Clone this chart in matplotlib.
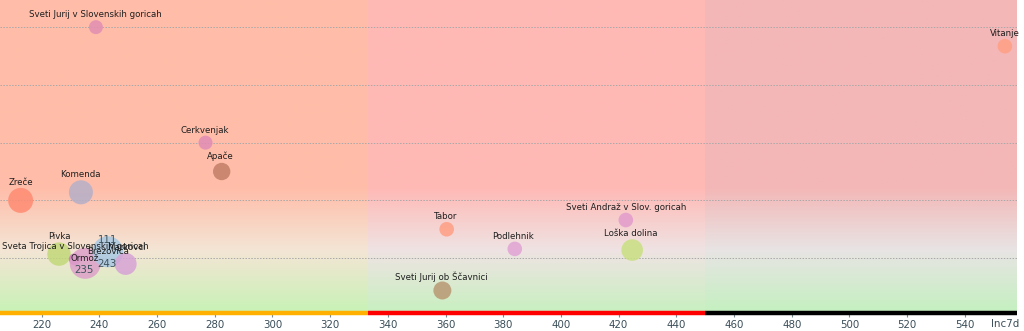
import numpy as np
import matplotlib.pyplot as plt
from matplotlib.colors import to_rgb

# municipalities: 7-day incidence (x), ratio (y), bubble radius
names = ["Sveti Jurij v Slovenskih goricah", "Cerkvenjak", "Apače", "Zreče", "Komenda",
         "Pivka", "Ormož", "Sveta Trojica v Slovenskih goricah", "Brezovica", "Markovci",
         "Tabor", "Podlehnik", "Sveti Jurij ob Ščavnici", "Sveti Andraž v Slov. goricah",
         "Loška dolina", "Vitanje"]
inc7d = [238.8, 276.8, 282.4, 212.7, 233.6, 226.0, 231.5, 235.1, 242.9, 249.1,
         360.4, 384.0, 358.9, 422.5, 424.7, 553.9]
ratio = [5.0, 3.0, 2.5, 2.0, 2.14, 1.07, 0.98, 0.91, 1.11, 0.90,
         1.5, 1.16, 0.44, 1.66, 1.14, 4.67]
bubble = [7, 7, 8.7, 12.5, 12, 11.7, 6, 15.5, 15.5, 11,
          7.3, 7.3, 9, 7.3, 10.8, 7.3]
# number labels inside the cluster
extra_text = ["111", "243", "235"]
extra_of = [8, 8, 7]

zone_edges = [205.55, 333, 450, 558.1]
zone_bar = ["#FFB000", "#FF0000", "#000000"]
ticks = list(range(220, 541, 20))

colors = ["#E28FB2", "#E08CB4", "#C47E68", "#FF8B72", "#B5AFC8",
          "#C2D878", "#D173C4", "#DDA0C9", "#A9C8E2", "#D7A3D6",
          "#FF9F84", "#E0A3D4", "#B99873", "#E29BCB", "#C9E082", "#FFA085"]
label_off = [(-1, 12.5), (-1, 12.5), (-1, 15), (0, 18), (-1, 18),
             (0, 18), (10, 1), (-10, 17), (0, 0), (1, 16),
             (-1, 12.6), (-2, 12.3), (-1, 13.6), (0, 12.7), (-1, 16.7), (0, 13)]
extra_off = [(0, 11.7), (-1, -12.3), (-1, -6.3)]

zone_top = ["#FFBDA9", "#FFB9B5", "#F4B7B7"]
zone_mid = ["#F4E5D5", "#EFE3E3", "#E8E4E4"]
zone_bot = ["#C8F2B6", "#C8F0C0", "#C4F0C0"]

fig = plt.figure(figsize=(10.24, 3.31), dpi=100)
ax = fig.add_axes([0, 18 / 331, 1017 / 1024, 313 / 331])
ymin, ymax = 0.05, 5.47
ax.set_xlim(zone_edges[0], zone_edges[-1])
ax.set_ylim(ymin, ymax)

# gradient backgrounds
n = 300
frac = np.linspace(0, 1, n)
for i in range(3):
    stops = [0, 0.2, 0.4, 1]
    cols = np.array([to_rgb(zone_bot[i]), to_rgb(zone_mid[i]), to_rgb(zone_top[i]), to_rgb(zone_top[i])])
    img = np.stack([np.interp(frac, stops, cols[:, c]) for c in range(3)], axis=-1)
    img = img[::-1][:, None, :]
    ax.imshow(img, extent=[zone_edges[i], zone_edges[i + 1], ymin, ymax], aspect='auto', zorder=0, interpolation='bilinear')
    ax.plot([zone_edges[i], zone_edges[i + 1]], [0, 0], transform=ax.get_xaxis_transform(),
            color=zone_bar[i], lw=3.2, solid_capstyle='butt', clip_on=False, zorder=5)

for gy in range(1, 6):
    ax.axhline(gy, color="#A8A8A8", lw=0.7, ls=(0, (1.5, 1.5)), zorder=1)

sizes = [(2 * r * 0.72) ** 2 for r in bubble]
ax.scatter(inc7d, ratio, s=sizes, c=colors, alpha=0.85, linewidths=0, zorder=3)

lab_font = ['Liberation Sans Narrow', 'DejaVu Sans']
for i, name in enumerate(names):
    ax.annotate(name, (inc7d[i], ratio[i]), xytext=label_off[i], textcoords='offset pixels',
                ha='center', va='center', fontsize=6.2, color="#1E1E1E", family=lab_font, zorder=4)
for t, k, off in zip(extra_text, extra_of, extra_off):
    ax.annotate(t, (inc7d[k], ratio[k]), xytext=off, textcoords='offset pixels',
                ha='center', va='center', fontsize=7.4, color="#3E525C", zorder=4)

for s in ax.spines.values():
    s.set_visible(False)
ax.set_yticks([])
ax.set_xticks(ticks)
ax.tick_params(axis='x', length=3, width=0.8, color="#7A8A90", pad=2, labelsize=7.4, labelcolor="#3A4E58")
fig.text(1005 / 1024, 1 - 324 / 331, "Inc7d", ha='center', va='center', fontsize=7.4, color="#3A4E58")

fig.savefig("out.png", dpi=100)
